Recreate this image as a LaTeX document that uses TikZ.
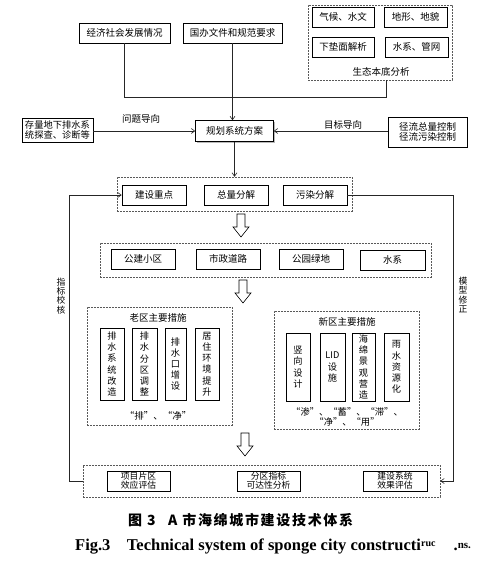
\documentclass[tikz,border=0pt]{standalone}
\usepackage{fontspec}
\newfontfamily\cjk{Noto Sans CJK SC}
\newfontfamily\cjkcap[LetterSpace=12]{Noto Sans CJK SC}
\newfontfamily\enserif{Liberation Serif}
\usetikzlibrary{arrows.meta,shadows,calc}
\tikzset{
  box/.style={draw, line width=0.6pt, fill=white,
    drop shadow={shadow xshift=1.2pt, shadow yshift=-1.2pt, fill=gray!55, opacity=1},
    inner sep=0pt, align=center, font=\cjk\fontsize{9.5}{10.5}\selectfont},
  vbox/.style={box, minimum width=24pt, minimum height=70pt, font=\cjk\fontsize{9.2}{11.2}\selectfont},
  grp/.style={draw, gray!70!black, dash pattern=on 1.6pt off 1.4pt, line width=0.5pt, inner sep=0pt},
  lbl/.style={font=\cjk\fontsize{9.5}{10.5}\selectfont, inner sep=0pt, align=center},
  conn/.style={line width=0.6pt, black!85},
  arr/.style={conn, -{Straight Barb[length=3.5pt,width=5pt]}},
  hollow/.style={draw, line width=0.6pt, fill=white, line join=miter}
}
\begin{document}
\begin{tikzpicture}[x=1pt,y=-1pt]
\useasboundingbox (0,0) rectangle (493,563);
\fill[white] (0,0) rectangle (493,563);

% top inputs
\node[box, minimum width=91, minimum height=20] (econ) at (124.5,33) {经济社会发展情况};
\node[box, minimum width=99, minimum height=20] (gov) at (232.5,33) {国办文件和规范要求};
\node[grp, minimum width=144, minimum height=75] (eco) at (380,42.5) {};
\node[box, minimum width=62, minimum height=20] (clim) at (343,17) {气候、水文};
\node[box, minimum width=63, minimum height=20] (terr) at (415.5,17) {地形、地貌};
\node[box, minimum width=62, minimum height=20] (surf) at (343,47) {下垫面解析};
\node[box, minimum width=63, minimum height=20] (wnet) at (416.5,47) {水系、管网};
\node[lbl] (ecolbl) at (381,72) {生态本底分析};

\node[box, minimum width=78, minimum height=21] (plan) at (234.5,131) {规划系统方案};
\node[box, minimum width=71, minimum height=24, font=\cjk\fontsize{9.3}{10}\selectfont] (stock) at (57.5,130) {存量地下排水系\\统探查、诊断等};
\node[box, minimum width=79, minimum height=30] (runoff) at (427.5,132) {径流总量控制\\径流污染控制};
\node[lbl] (l1) at (141,119) {问题导向};
\node[lbl] (l2) at (343,125) {目标导向};

\coordinate (j) at (386,97);
\draw[conn] (econ.south) |- (j) -- (j |- eco.south);
\draw[arr] (gov.south) -- (gov.south |- plan.north);
\draw[arr] (stock.east |- plan.west) -- (plan.west);
\draw[arr] (runoff.west |- plan.east) -- (plan.east);

% row 1
\node[grp, minimum width=235, minimum height=34] (g1) at (234.5,194) {};
\node[box, minimum width=64, minimum height=20] (b1) at (154,195) {建设重点};
\node[box, minimum width=64, minimum height=20] (b2) at (236,195) {总量分解};
\node[box, minimum width=64, minimum height=20] (b3) at (315,195) {污染分解};
\draw[arr] (plan.south) -- (plan.south |- g1.north);

% hollow arrow 1
\coordinate (h1) at (241,214);
\draw[hollow] ($(h1)+(-4,0)$) -- ++(8,0) -- ++(0,13) -- ++(4,0) -- ++(-8,10) -- ++(-8,-10) -- ++(4,0) -- cycle;

% row 2
\node[grp, minimum width=331, minimum height=34] (g2) at (265.5,260) {};
\node[box, minimum width=64, minimum height=20] (c1) at (143,259) {公建小区};
\node[box, minimum width=64, minimum height=20] (c2) at (228,259) {市政道路};
\node[box, minimum width=64, minimum height=20] (c3) at (311,259) {公园绿地};
\node[box, minimum width=65, minimum height=20] (c4) at (392.5,260) {水系};

% hollow arrow 2
\coordinate (h2) at (243,280);
\draw[hollow] ($(h2)+(-4,0)$) -- ++(8,0) -- ++(0,13) -- ++(4,0) -- ++(-8,10) -- ++(-8,-10) -- ++(4,0) -- cycle;

% old district
\node[grp, minimum width=145, minimum height=118] (og) at (159.5,366) {};
\node[lbl] (ot) at (158,318) {老区主要措施};
\node[vbox, minimum width=24, minimum height=72] (o1) at (112,364) {排\\水\\系\\统\\改\\造};
\node[vbox, minimum width=25, minimum height=72] (o2) at (144.5,364) {排\\水\\分\\区\\调\\整};
\node[vbox, minimum width=21, minimum height=72] (o3) at (175.5,364) {排\\水\\口\\增\\设};
\node[vbox, minimum width=24, minimum height=72] (o4) at (207,364) {居\\住\\环\\境\\提\\升};
\node[lbl] (oq) at (158,416) {“排”、“净”};

% new district
\node[grp, minimum width=145, minimum height=118] (ng) at (346.5,370) {};
\node[lbl] (nt) at (347,322) {新区主要措施};
\node[vbox, minimum width=24, minimum height=68] (n1) at (298,367) {竖\\向\\设\\计};
\node[vbox, minimum width=25, minimum height=68] (n2) at (332.5,367) {LID\\设\\施};
\node[vbox, minimum width=23, minimum height=68] (n3) at (363.5,367) {海\\绵\\景\\观\\营\\造};
\node[vbox, minimum width=25, minimum height=68] (n4) at (396.5,367) {雨\\水\\资\\源\\化};
\node[lbl, font=\cjk\fontsize{9.3}{10}\selectfont] (nq) at (347,417) {“渗”、“蓄”、“滞”、\\“净”、“用”};

% hollow arrow 3
\coordinate (h3) at (245,433);
\draw[hollow] ($(h3)+(-4,0)$) -- ++(8,0) -- ++(0,13) -- ++(4,0) -- ++(-8,10) -- ++(-8,-10) -- ++(4,0) -- cycle;

% evaluation row
\node[grp, minimum width=357, minimum height=32] (g3) at (261.5,481) {};
\node[box, minimum width=63, minimum height=20, font=\cjk\fontsize{8.8}{8.8}\selectfont] (e1) at (138.5,481) {项目片区\\效应评估};
\node[box, minimum width=63, minimum height=20, font=\cjk\fontsize{8.8}{8.8}\selectfont] (e2) at (268.5,481) {分区指标\\可达性分析};
\node[box, minimum width=64, minimum height=20, font=\cjk\fontsize{8.8}{8.8}\selectfont] (e3) at (395,481) {建设系统\\效果评估};

% feedback loops
\draw[arr] (g3.west) -- ++(-13,0) |- (b1.west);
\draw[arr] (b3.east) -| ($(g3.east)+(13,0)$) -- (g3.east);
\node[lbl, font=\cjk\fontsize{8.8}{9.3}\selectfont] (fl) at (61,296) {指\\标\\校\\核};
\node[lbl, font=\cjk\fontsize{8.8}{9.3}\selectfont] (fr) at (463,295) {模\\型\\修\\正};

% captions
\node[inner sep=0pt, anchor=west, font=\cjkcap\bfseries\fontsize{14}{16}\selectfont] (cap1) at (128,520) {图 3\hspace{0.9em}A 市海绵城市建设技术体系};
\node[inner sep=0pt, anchor=base west, font=\enserif\bfseries\fontsize{16.5}{18}\selectfont] (cap2) at (75,550) {Fig.3\hspace{1em}Technical system of sponge city constructi\raisebox{4pt}{\fontsize{10}{11}\selectfont ruc}\hspace{1.1em}.\raisebox{2pt}{\fontsize{11}{12}\selectfont ns.}};
\end{tikzpicture}
\end{document}
